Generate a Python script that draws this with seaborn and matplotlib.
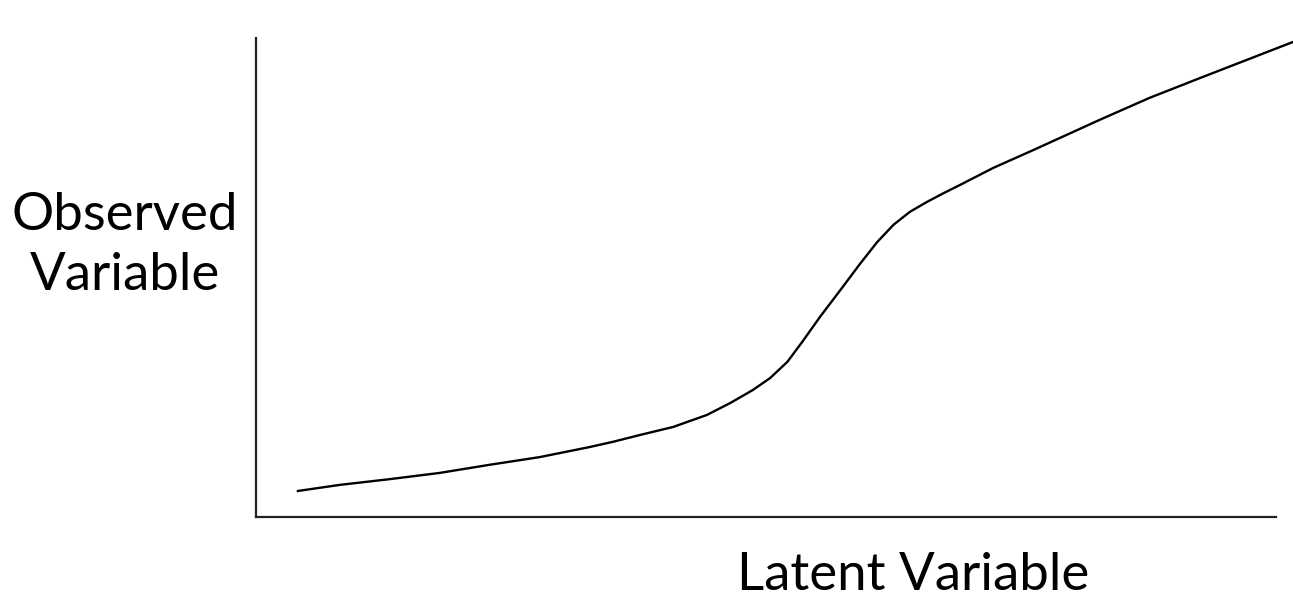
import matplotlib
matplotlib.use('Agg')
import matplotlib.pyplot as plt
import seaborn as sns

# curve (latent -> observed)
latent = [0.40, 0.82, 1.31, 1.80, 2.29, 2.78, 3.27, 3.50, 3.76, 4.09, 4.42,
          4.65, 4.87, 5.04, 5.21, 5.36, 5.53, 5.73, 5.92, 6.09, 6.25, 6.41,
          6.58, 6.74, 6.90, 7.23, 7.62, 8.27, 8.76, 9.25, 10.17]
observed = [0.54, 0.67, 0.79, 0.92, 1.09, 1.25, 1.46, 1.57, 1.71, 1.88, 2.13,
            2.38, 2.65, 2.90, 3.24, 3.67, 4.18, 4.74, 5.28, 5.74, 6.10, 6.37,
            6.58, 6.76, 6.93, 7.29, 7.66, 8.29, 8.75, 9.16, 9.92]

x_label = 'Latent Variable'
y_label = ['Observed', 'Variable']

sns.set_style('white')
plt.rcParams['font.family'] = ['Lato', 'DejaVu Sans']

fig = plt.figure(figsize=(12.93, 5.98), dpi=100)
ax = fig.add_axes([256/1293, 81/598, 1020/1293, 479/598])

sns.lineplot(x=latent, y=observed, sort=False, color='black', lw=1.7, ax=ax)
for l in ax.lines:
    l.set_clip_on(False)
    l.set_solid_joinstyle('round')
    l.set_solid_capstyle('butt')

ax.set_xlim(0, 10)
ax.set_ylim(0, 10)
ax.set_xticks([])
ax.set_yticks([])
for s in ['top', 'right']:
    ax.spines[s].set_visible(False)
for s in ['left', 'bottom']:
    ax.spines[s].set_color('#222222')
    ax.spines[s].set_linewidth(1.6)

# y label as two lines, horizontal, left of the axis
fig.text(125/1293, 1 - 230/598, y_label[0], ha='center', va='baseline',
         fontsize=38, color='black')
fig.text(125/1293, 1 - 290/598, y_label[1], ha='center', va='baseline',
         fontsize=38, color='black')
fig.text(913/1293, 1 - 590/598, x_label, ha='center', va='baseline',
         fontsize=38, color='black')

plt.savefig('out.png', dpi=100)
